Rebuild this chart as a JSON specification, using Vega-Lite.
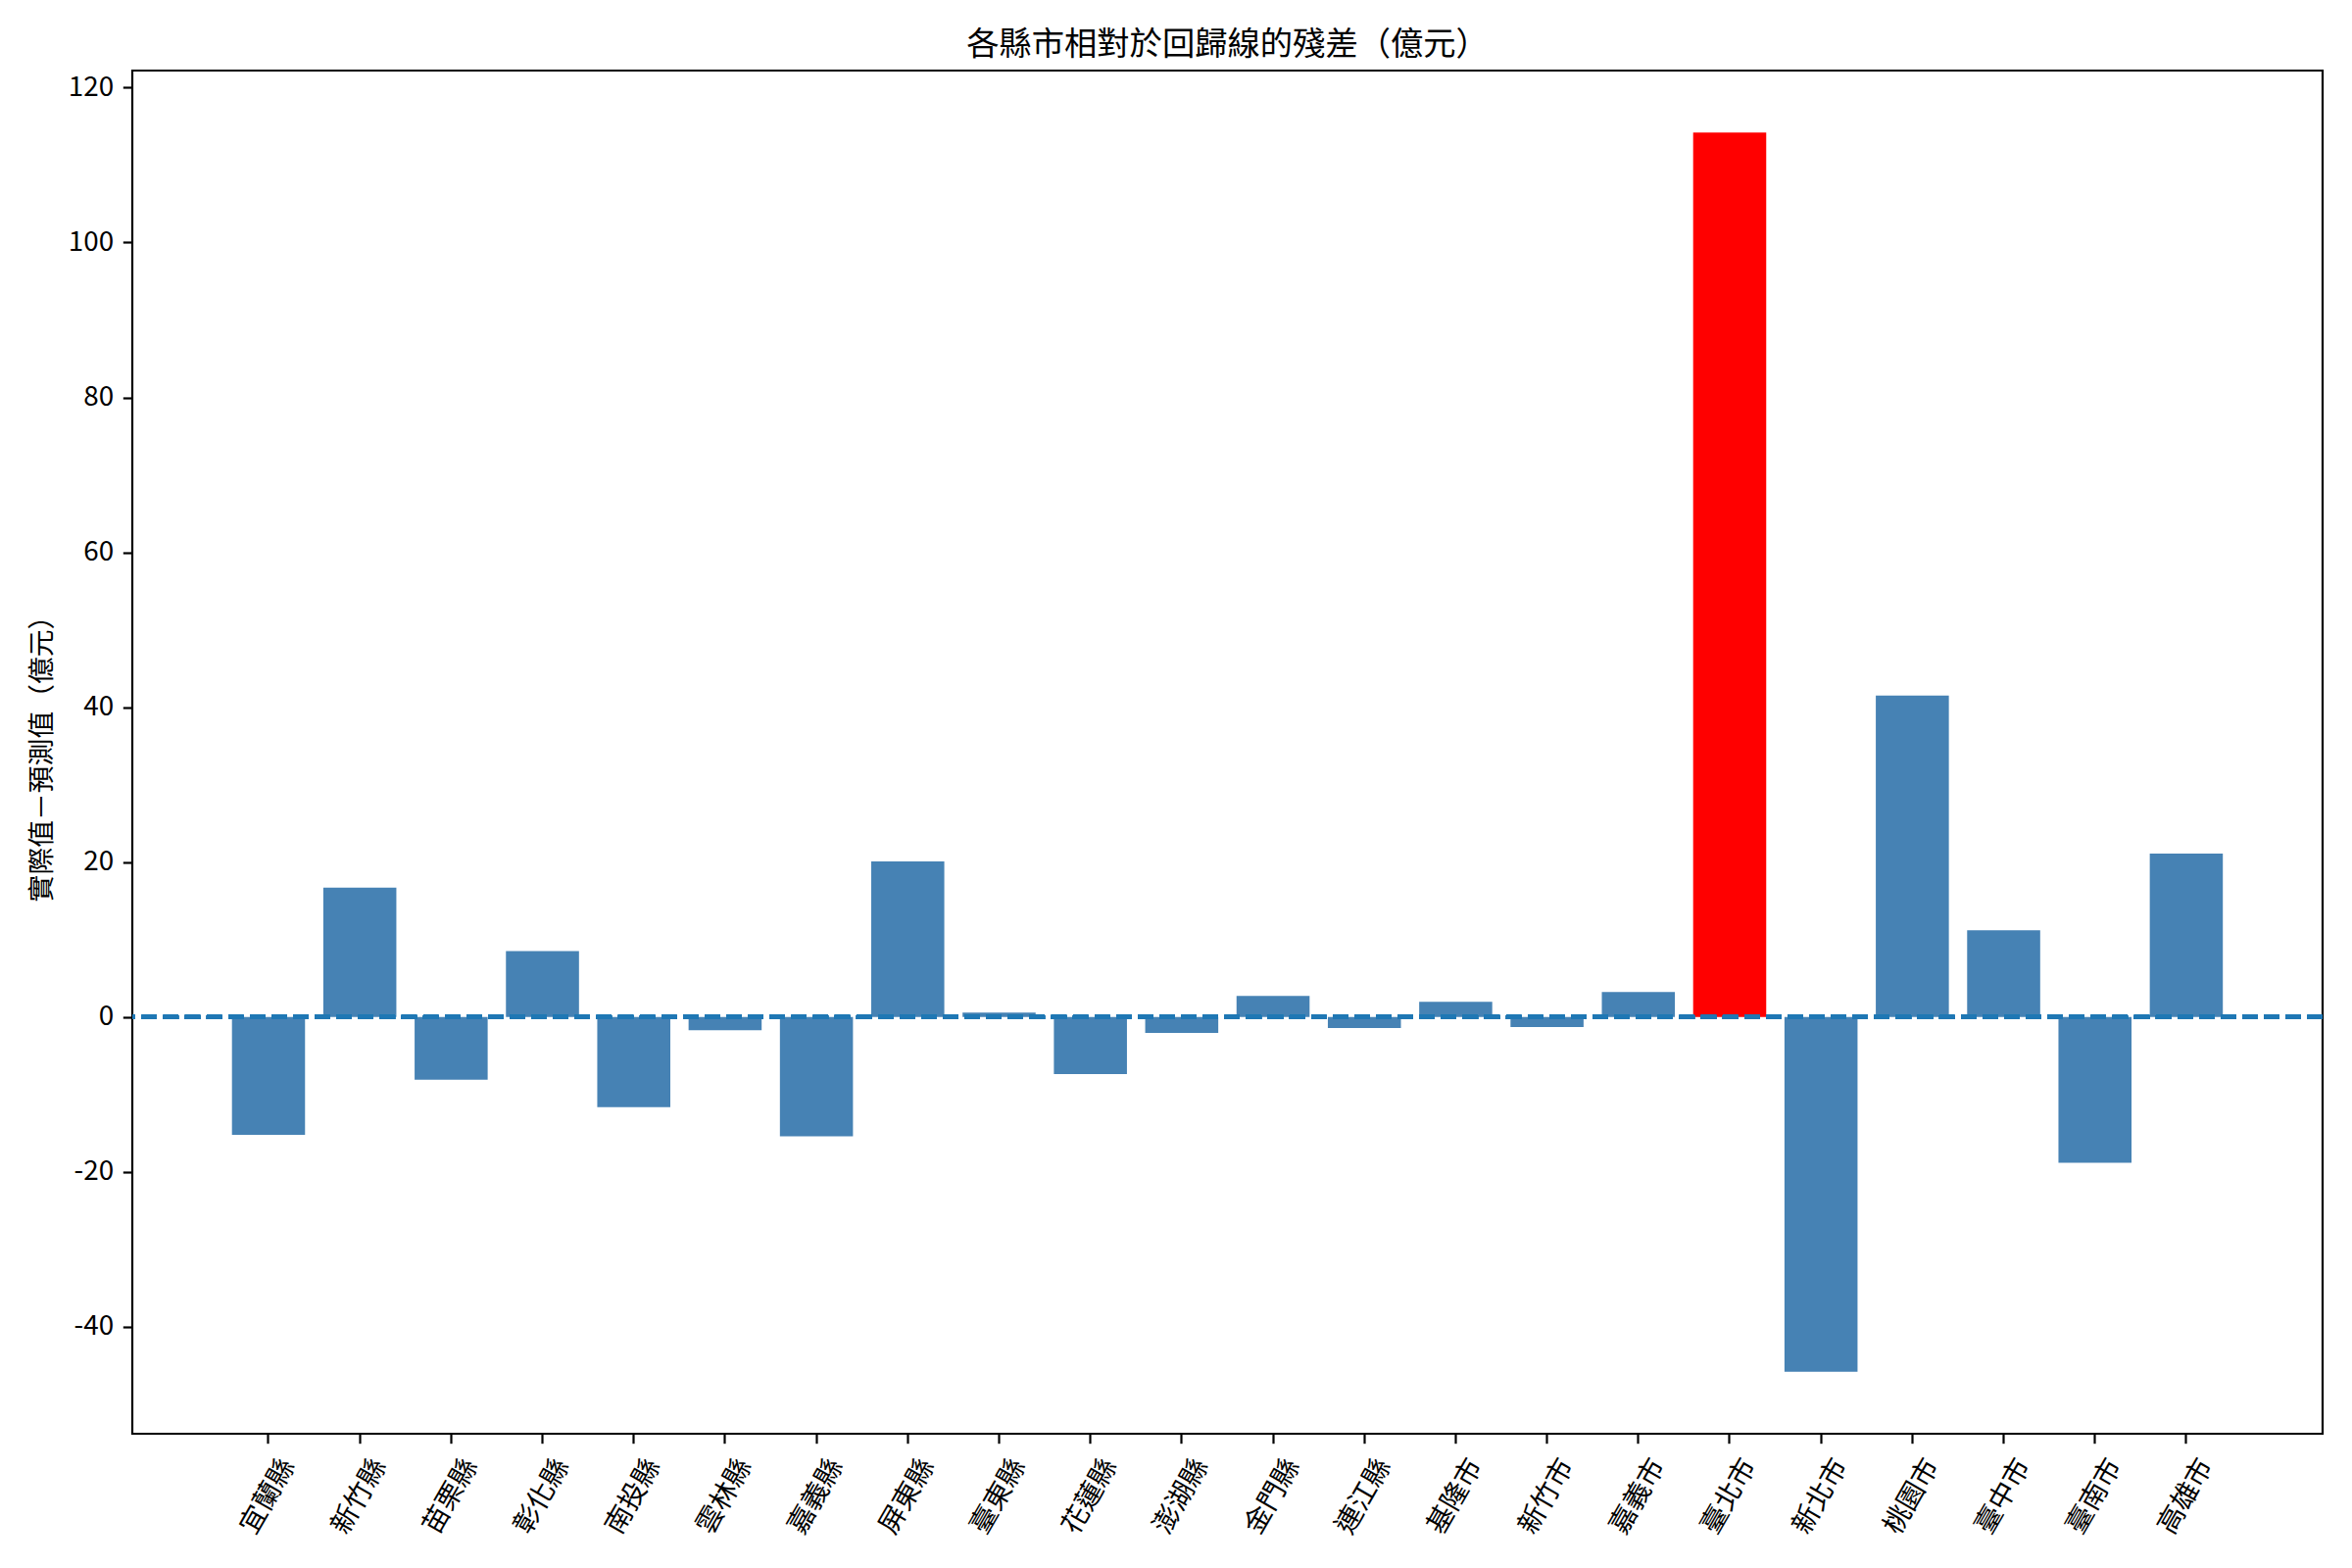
{
  "$schema": "https://vega.github.io/schema/vega-lite/v6.json",
  "width": 2235,
  "height": 1391,
  "autosize": "none",
  "padding": {"left": 135, "top": 72, "right": 30, "bottom": 137},
  "background": "white",
  "title": {
    "text": "各縣市相對於回歸線的殘差（億元）",
    "fontSize": 33.3,
    "fontWeight": "normal",
    "color": "black",
    "anchor": "middle",
    "baseline": "alphabetic",
    "offset": 16.7,
    "dy": 34
  },
  "data": {
    "values": [
      {"county": "宜蘭縣", "residual": -15.2},
      {"county": "新竹縣", "residual": 16.7},
      {"county": "苗栗縣", "residual": -8.1},
      {"county": "彰化縣", "residual": 8.5},
      {"county": "南投縣", "residual": -11.65},
      {"county": "雲林縣", "residual": -1.7},
      {"county": "嘉義縣", "residual": -15.4},
      {"county": "屏東縣", "residual": 20.1},
      {"county": "臺東縣", "residual": 0.59},
      {"county": "花蓮縣", "residual": -7.35},
      {"county": "澎湖縣", "residual": -2.06},
      {"county": "金門縣", "residual": 2.73},
      {"county": "連江縣", "residual": -1.43},
      {"county": "基隆市", "residual": 1.97},
      {"county": "新竹市", "residual": -1.3},
      {"county": "嘉義市", "residual": 3.24},
      {"county": "臺北市", "residual": 114.2},
      {"county": "新北市", "residual": -45.8},
      {"county": "桃園市", "residual": 41.5},
      {"county": "臺中市", "residual": 11.2},
      {"county": "臺南市", "residual": -18.8},
      {"county": "高雄市", "residual": 21.1}
    ]
  },
  "layer": [
    {
      "mark": {"type": "bar"},
      "encoding": {
        "x": {
          "field": "county",
          "type": "nominal",
          "sort": null,
          "title": null,
          "scale": {"paddingInner": 0.2, "paddingOuter": 0, "range": [101.7, 2133.2]},
          "axis": {
            "labelAngle": -60,
            "labelAlign": "center",
            "labelBaseline": "middle",
            "labelPadding": 54,
            "labelFontSize": 27.8,
            "labelColor": "black",
            "tickSize": 9.7,
            "tickWidth": 2.2,
            "tickColor": "black",
            "domain": false,
            "grid": false
          }
        },
        "y": {
          "field": "residual",
          "type": "quantitative",
          "title": "實際值－預測值（億元）",
          "scale": {"domain": [-53.8, 122.2], "nice": false, "zero": false},
          "axis": {
            "values": [-40, -20, 0, 20, 40, 60, 80, 100, 120],
            "labelExpr": "toString(datum.value)",
            "labelFontSize": 27.8,
            "labelColor": "black",
            "labelPadding": 9.7,
            "tickSize": 9.7,
            "tickWidth": 2.2,
            "tickColor": "black",
            "domain": false,
            "grid": false,
            "titleFontSize": 27.8,
            "titleFontWeight": "normal",
            "titleColor": "black",
            "titleX": -92,
            "titleY": 695,
            "titleAngle": -90,
            "titleAlign": "center",
            "titleBaseline": "middle"
          }
        },
        "color": {
          "condition": {"test": "datum.county === '臺北市'", "value": "#FF0000"},
          "value": "#4682B4"
        }
      }
    },
    {
      "mark": {
        "type": "rule",
        "color": "#1f77b4",
        "strokeWidth": 4.2,
        "strokeDash": [15.4, 6.7]
      },
      "encoding": {"y": {"datum": 0}}
    }
  ],
  "config": {
    "font": "Noto Sans CJK TC",
    "view": {"stroke": "black", "strokeWidth": 2.2}
  }
}
